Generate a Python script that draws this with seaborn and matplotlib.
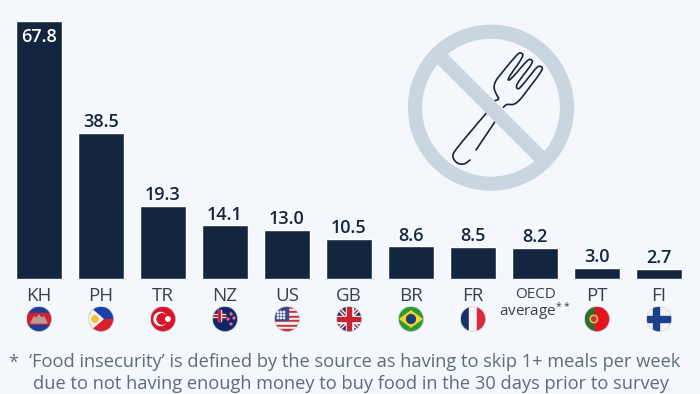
# Food insecurity bar chart with flags and a "no fork" icon
import numpy as np
import pandas as pd
import matplotlib
matplotlib.use('Agg')
import matplotlib.pyplot as plt
from matplotlib.patches import Circle, Polygon, Rectangle
import seaborn as sns

countries = ['KH', 'PH', 'TR', 'NZ', 'US', 'GB', 'BR', 'FR', 'OECD', 'PT', 'FI']
values = [67.8, 38.5, 19.3, 14.1, 13.0, 10.5, 8.6, 8.5, 8.2, 3.0, 2.7]
tick_labels = ['KH', 'PH', 'TR', 'NZ', 'US', 'GB', 'BR', 'FR', 'OECD\naverage$^{**}$', 'PT', 'FI']
footnote_1 = '‘Food insecurity’ is defined by the source as having to skip 1+ meals per week'
footnote_2 = 'due to not having enough money to buy food in the 30 days prior to survey'

BG = '#f4f7fb'
NAVY = '#14263f'
TICK = '#36424f'
NOTE = '#5d6b7b'
ICON = '#c9d6df'

sns.set_theme(style='white')
plt.rcParams['font.family'] = ['Open Sans', 'DejaVu Sans']
plt.rcParams['mathtext.default'] = 'regular'

W, H = 700, 394
BASE = 279
PX_PER_UNIT = 3.805

fig = plt.figure(figsize=(7, 3.94), dpi=100, facecolor=BG)
ax = fig.add_axes([0, (H - BASE) / H, 1, BASE / H])
ax.set_facecolor('none')

df = pd.DataFrame({'country': countries, 'value': values})
sns.barplot(data=df, x='country', y='value', color=NAVY, saturation=1, width=0.73, ax=ax)
ax.set_xlim(-39 / 62, (W - 39) / 62)
ax.set_ylim(0, BASE / PX_PER_UNIT)
sns.despine(ax=ax, left=True, bottom=True)
ax.set_xlabel('')
ax.set_ylabel('')
ax.set_yticks([])
ax.set_xticks(range(len(countries)))
ax.set_xticklabels(tick_labels, fontsize=13.5, color=TICK)
ax.tick_params(axis='x', length=0, pad=5.5)
oecd = ax.get_xticklabels()[8]
oecd.set_fontsize(11)
oecd.set_linespacing(0.9)

for i, v in enumerate(values):
    inside = i == 0
    ax.annotate(f'{v:.1f}', (i, v), xytext=(0, -11.8 if inside else 7.6), textcoords='offset points',
                ha='center', va='center', fontsize=13, fontweight=600,
                color='white' if inside else NAVY)

# overlay in pixel coordinates for flags and the icon
ov = fig.add_axes([0, 0, 1, 1])
ov.set_xlim(0, W)
ov.set_ylim(H, 0)
ov.axis('off')
ov.patch.set_alpha(0)


def flag(cx, stripes=None, vertical=False, base=None):
    # round clipped flag, returns clip circle and the list of shapes
    cy, r = 319, 12.5
    clip = Circle((cx, cy), r, transform=ov.transData)
    shapes = []
    if base:
        shapes.append(Rectangle((cx - r, cy - r), 2 * r, 2 * r, color=base))
    if stripes:
        n = sum(s[1] for s in stripes)
        pos = -r
        for col, share in stripes:
            size = 2 * r * share / n
            if vertical:
                shapes.append(Rectangle((cx + pos, cy - r), size, 2 * r, color=col))
            else:
                shapes.append(Rectangle((cx - r, cy + pos), 2 * r, size, color=col))
            pos += size
    return cx, cy, r, clip, shapes


def finish(clip, shapes):
    for s in shapes:
        ov.add_patch(s)
        s.set_clip_path(clip)
    # thin rim so light flags stay visible
    cx, cy = clip.center
    ov.add_patch(Circle((cx, cy), clip.radius, fill=False, ec='#c9ced6', lw=0.6, alpha=0.7, zorder=5))


def cat(i):
    return 39 + 62 * i


def smooth(pts, rounds=3):
    # corner cutting, only for the fork outline
    p = np.array(pts, dtype=float)
    for _ in range(rounds):
        q = p[:-1] * 0.75 + p[1:] * 0.25
        r = p[:-1] * 0.25 + p[1:] * 0.75
        mid = np.empty((len(q) * 2, 2))
        mid[0::2] = q
        mid[1::2] = r
        p = np.vstack([p[0], mid, p[-1]])
    return p


# Cambodia
cx, cy, r, clip, sh = flag(cat(0), [('#1f3f92', 1), ('#d3202f', 2), ('#1f3f92', 1)])
sh.append(Polygon([(cx - 8, cy + 4), (cx - 5, cy - 2), (cx - 2, cy - 1), (cx, cy - 4), (cx + 2, cy - 1),
                   (cx + 5, cy - 2), (cx + 8, cy + 4)], color='#b99a95'))
finish(clip, sh)

# Philippines
cx, cy, r, clip, sh = flag(cat(1), [('#1b3fa8', 1), ('#d8202f', 1)])
sh.append(Polygon([(cx - r, cy - r), (cx + 2, cy), (cx - r, cy + r)], color='#f3f3ee'))
sh.append(Circle((cx - 6, cy), 3.2, color='#f2c530'))
finish(clip, sh)

# Turkey
cx, cy, r, clip, sh = flag(cat(2), base='#d8152b')
sh.append(Circle((cx - 2.5, cy), 6.5, color='white'))
sh.append(Circle((cx - 0.8, cy), 5.2, color='#d8152b'))
sh.append(Circle((cx + 5, cy), 2.2, color='white'))
finish(clip, sh)

# New Zealand
cx, cy, r, clip, sh = flag(cat(3), base='#14246b')
sh.append(Rectangle((cx - r, cy - 5.5), r, 3.6, color='white'))
sh.append(Rectangle((cx - r, cy - 4.5), r, 1.6, color='#c8242f'))
sh.append(Rectangle((cx - 7.5, cy - 9), 3, 11, color='white'))
sh.append(Rectangle((cx - 6.8, cy - 9), 1.5, 11, color='#c8242f'))
for dx, dy in [(6, -5), (9, -1), (3, 0), (6, 5)]:
    sh.append(Circle((cx + dx, cy + dy), 1.0, color='#e8707a'))
finish(clip, sh)

# United States
cx, cy, r, clip, sh = flag(cat(4), [('#c8323f' if k % 2 == 0 else '#f4f4f4', 1) for k in range(11)])
sh.append(Rectangle((cx - r, cy - r), r + 0.5, r + 1, color='#3b4a86'))
for dx in (-9, -6, -3):
    for dy in (-7, -4, -1):
        sh.append(Circle((cx + dx, cy + dy), 0.7, color='#e8e8f0'))
finish(clip, sh)

# Great Britain
cx, cy, r, clip, sh = flag(cat(5), base='#1d2f73')
for (a, b), w, col in [(((-r, -r), (r, r)), 3.0, 'white'), (((-r, r), (r, -r)), 3.0, 'white'),
                       (((-r, -r), (r, r)), 1.2, '#c8242f'), (((-r, r), (r, -r)), 1.2, '#c8242f')]:
    line = ov.plot([cx + a[0], cx + b[0]], [cy + a[1], cy + b[1]], color=col, lw=w, solid_capstyle='butt')[0]
    line.set_clip_path(clip)
sh.append(Rectangle((cx - r, cy - 3.5), 2 * r, 7, color='white', zorder=3))
sh.append(Rectangle((cx - 3.5, cy - r), 7, 2 * r, color='white', zorder=3))
sh.append(Rectangle((cx - r, cy - 2), 2 * r, 4, color='#c8242f', zorder=4))
sh.append(Rectangle((cx - 2, cy - r), 4, 2 * r, color='#c8242f', zorder=4))
finish(clip, sh)

# Brazil
cx, cy, r, clip, sh = flag(cat(6), base='#2f9a35')
sh.append(Polygon([(cx - 11, cy), (cx, cy - 8), (cx + 11, cy), (cx, cy + 8)], color='#f3d526'))
sh.append(Circle((cx, cy), 4.4, color='#203a7c'))
finish(clip, sh)

# France
cx, cy, r, clip, sh = flag(cat(7), [('#1a2f66', 1), ('#f4f4f6', 1), ('#dc2a3c', 1)], vertical=True)
finish(clip, sh)

# Portugal
cx, cy, r, clip, sh = flag(cat(9), [('#2f6b2b', 2), ('#e3141e', 3)], vertical=True)
sh.append(Circle((cx - 3.2, cy), 3.8, color='#d9c45f'))
sh.append(Circle((cx - 3.2, cy), 2.2, color='#c9353a'))
finish(clip, sh)

# Finland
cx, cy, r, clip, sh = flag(cat(10), base='#f2f3f7')
sh.append(Rectangle((cx - r, cy - 2.7), 2 * r, 5.4, color='#1d3f8c'))
sh.append(Rectangle((cx - 5.7, cy - r), 5.4, 2 * r, color='#1d3f8c'))
finish(clip, sh)

# no-fork icon: fork outline first, ring and slash on top (points read from a 3x crop)
handle = [(260, 308), (165, 420), (156, 440), (170, 460), (192, 464), (210, 450)]
handle_2 = [(285, 335), (228, 420)]
head = [(310, 292), (320, 282), (340, 285), (358, 272), (375, 250), (428, 180), (426, 170), (415, 168),
        (405, 178), (360, 235), (352, 237), (348, 228), (360, 208), (400, 157), (393, 147), (382, 150),
        (330, 212), (321, 208), (372, 138), (363, 127), (352, 132), (300, 195), (285, 215), (281, 235),
        (290, 255), (298, 268), (285, 272)]
for pts in (handle, handle_2, head):
    p = smooth(pts, 2 if len(pts) > 2 else 0) / 3 + np.array([400, 10])
    ov.plot(p[:, 0], p[:, 1], color=NAVY, lw=1.2, solid_joinstyle='round', solid_capstyle='round', zorder=5)

ccx, ccy = 491, 107.7
ring = Circle((ccx, ccy), 76, fill=False, ec=ICON, lw=10.2, zorder=6)
ov.add_patch(ring)
ov.plot([ccx - 55, ccx + 55], [ccy - 55, ccy + 55], color=ICON, lw=10.4, solid_capstyle='butt', zorder=6)

# footnote
ov.text(8, 363, '*', fontsize=13, color=NOTE, va='center', ha='left')
ov.text(29, 362, footnote_1, fontsize=13.15, color=NOTE, va='center', ha='left')
ov.text(33, 384, footnote_2, fontsize=13.15, color=NOTE, va='center', ha='left')

fig.savefig('out.png', dpi=100, facecolor=BG)
